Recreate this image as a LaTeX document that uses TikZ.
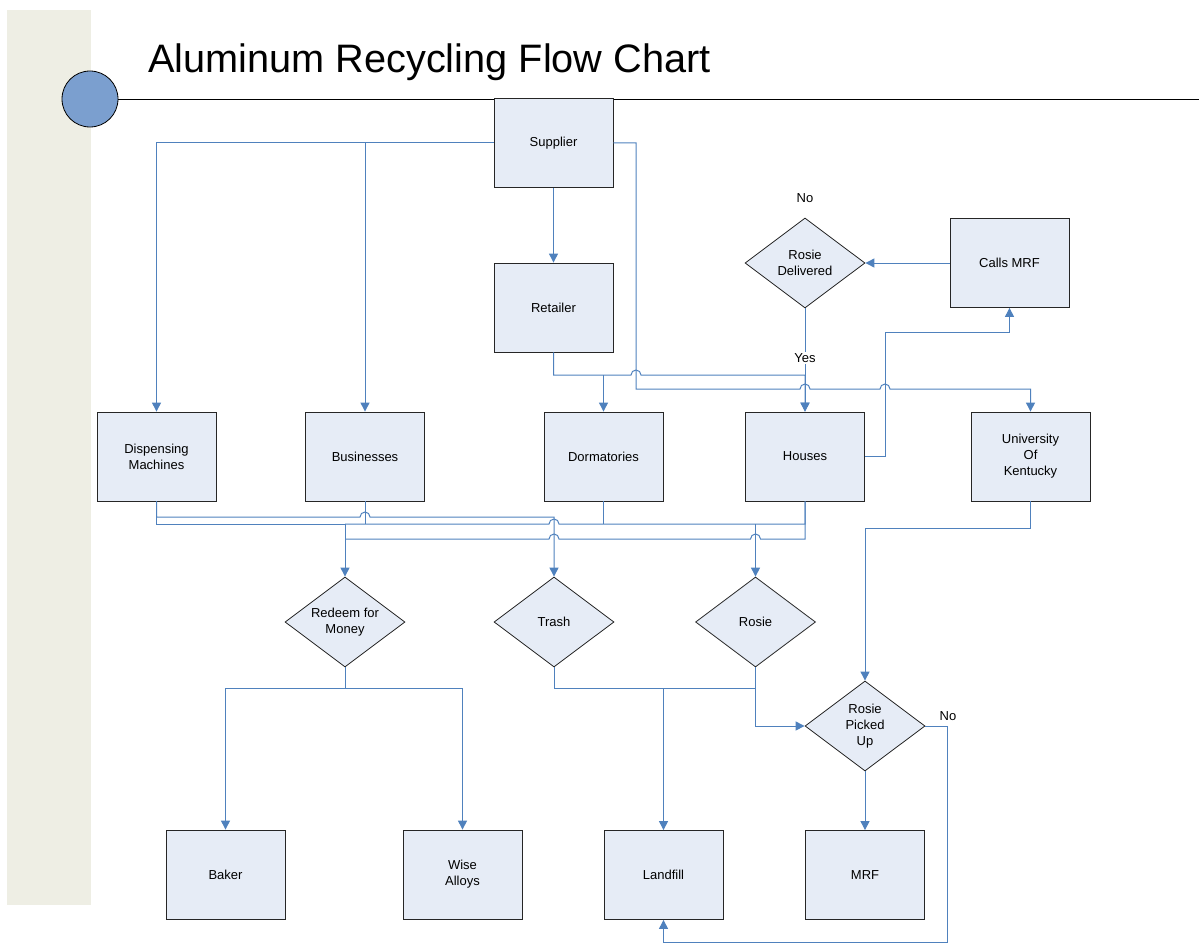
\documentclass[tikz,border=0pt]{standalone}
\usepackage{fontspec}
\setmainfont{Liberation Sans}
\usetikzlibrary{shapes.geometric,arrows.meta}
\definecolor{conn}{RGB}{79,129,189}
\definecolor{boxfill}{RGB}{230,236,246}
\definecolor{panel}{RGB}{238,238,228}
\definecolor{ball}{RGB}{123,159,207}
\tikzset{
  box/.style={draw=black!85, line width=0.8pt, fill=boxfill, minimum width=119pt, minimum height=89pt, inner sep=0pt, align=center, font=\fontsize{13}{16}\selectfont},
  dec/.style={draw=black!85, line width=0.8pt, fill=boxfill, diamond, aspect=1.33, minimum width=120pt, minimum height=90pt, inner sep=0pt, align=center, font=\fontsize{13}{16}\selectfont},
  cn/.style={draw=conn, line width=1pt},
  ca/.style={cn, -{Triangle[length=9pt,width=9pt]}},
  lbl/.style={font=\fontsize{13}{16}\selectfont, inner sep=1pt}
}
\begin{document}
\begin{tikzpicture}[x=1pt,y=-1pt]
\useasboundingbox (0,0) rectangle (1199,944);
\fill[panel] (7,10) rectangle (91,905);
\draw[black, line width=0.8pt] (118,99) -- (1199,99);
\node[circle, draw=black, line width=0.8pt, fill=ball, minimum size=56pt, inner sep=0pt] (dot) at (90,99) {};
\node[anchor=base west, inner sep=0pt, font=\fontsize{39.7}{48}\selectfont] (title) at (148,73) {Aluminum Recycling Flow Chart};

\node[box] (sup) at (553.5,143) {Supplier};
\node[box] (ret) at (553.5,307.5) {Retailer};
\node[box] (cmrf) at (1009.5,263) {Calls MRF};
\node[dec] (rd) at (805,263) {Rosie\\Delivered};
\node[box] (disp) at (156.5,456.5) {Dispensing\\Machines};
\node[box] (bus) at (365,456.5) {Businesses};
\node[box] (dorm) at (603.5,456.5) {Dormatories};
\node[box] (hou) at (805,456.5) {Houses};
\node[box] (uk) at (1030.5,456.5) {University\\Of\\Kentucky};
\node[dec] (red) at (345,622) {Redeem for\\Money};
\node[dec] (trash) at (554,622) {Trash};
\node[dec] (rosie) at (755.5,622) {Rosie};
\node[dec] (rpu) at (865,726) {Rosie\\Picked\\Up};
\node[box] (baker) at (225.5,874.5) {Baker};
\node[box] (wise) at (462.5,874.5) {Wise\\Alloys};
\node[box] (land) at (663.5,875) {Landfill};
\node[box] (mrf) at (865,875) {MRF};

\node[lbl] (no1) at (805,198) {No};
\node[lbl] (no2) at (948,716) {No};

% Supplier connectors
\draw[ca] (sup.west) -| (disp.north);
\draw[ca] (bus.north |- sup.west) -- (bus.north);
\draw[ca] (sup.south) -- (ret.north);
\draw[ca] (sup.east) -- (636,143) -- (636,389) -- (800,389) arc[start angle=180,end angle=0,radius=5pt] -- (880,389) arc[start angle=180,end angle=0,radius=5pt] -- (uk.north |- 0,389) -- (uk.north);
% Retailer
\draw[ca] (ret.south) -- (553.5,375) -- (631,375) arc[start angle=180,end angle=0,radius=5pt] -- (hou.north |- 0,375) -- (hou.north);
\draw[ca] (dorm.north |- 0,375) -- (dorm.north);
% Rosie delivered
\draw[ca] (rd.south) -- (hou.north);
\node[lbl, fill=white] (yes) at (805,358) {Yes};
\draw[ca] (hou.east) -- (885,456.5) -- (885,332) -- (cmrf.south |- 0,332) -- (cmrf.south);
\draw[ca] (cmrf.west) -- (rd.east);

% bottom bus
\draw[ca] (disp.south) -- (156.5,517) -- (360,517) arc[start angle=180,end angle=0,radius=5pt] -- (554,517) -- (trash.north);
\draw[ca] (disp.south) -- (156.5,524) -- (345,524) -- (red.north);
\draw[cn] (bus.south) -- (365,524);
\draw[cn, line width=1.5pt] (dorm.south) -- (603.5,524);
\draw[cn] (345,524) -- (549,524) arc[start angle=180,end angle=0,radius=5pt] -- (805,524) -- (hou.south);
\draw[ca] (755.5,524) -- (rosie.north);
\draw[cn] (hou.south) -- (805,539) -- (760.5,539) arc[start angle=0,end angle=180,radius=5pt] -- (559,539) arc[start angle=0,end angle=180,radius=5pt] -- (345,539);

% University
\draw[ca] (uk.south) -- (1030.5,528) -- (865,528) -- (rpu.north);

% Redeem
\draw[ca] (red.south) -- (345,688) -| (baker.north);
\draw[ca] (345,688) -| (wise.north);
% Trash and Rosie
\draw[ca] (trash.south) -- (554,688) -| (land.north);
\draw[cn] (rosie.south) -- (755.5,688) -- (663.5,688);
\draw[ca] (755.5,688) |- (rpu.west);
\draw[ca] (rpu.south) -- (mrf.north);
\draw[ca] (rpu.east) -- (947,726) -- (947,942) -| (land.south);
\end{tikzpicture}
\end{document}
